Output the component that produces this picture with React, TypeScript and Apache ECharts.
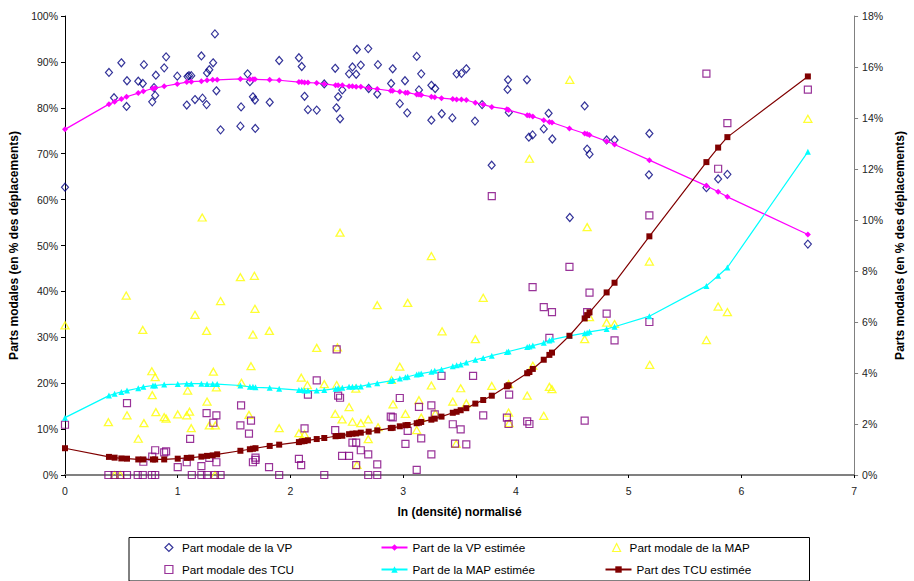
import React, { useEffect, useRef } from "react";
import * as echarts from "echarts";

// Observed modal shares (x = ln(density) normalised, y = % of trips)
const vpObserved: [number, number][] = [
  [0, 62.7], [0.39, 87.7], [0.435, 82.2], [0.5, 89.8], [0.546, 80.3], [0.55, 85.9], [0.65, 85.8], [0.69, 85.3],
  [0.7, 89.4], [0.774, 81.3], [0.79, 84.4], [0.8, 82.7], [0.806, 87.1], [0.88, 88.7], [0.897, 91.1], [0.996, 86.9],
  [1.08, 80.6], [1.087, 86.8], [1.1, 87.0], [1.12, 87.0], [1.153, 81.8], [1.21, 91.3], [1.22, 82.1], [1.256, 80.7],
  [1.26, 87.6], [1.28, 88.3], [1.314, 89.8], [1.33, 96.1], [1.343, 83.7], [1.38, 75.2], [1.556, 76.0], [1.562, 80.2],
  [1.62, 87.4], [1.64, 85.7], [1.667, 82.4], [1.685, 81.7], [1.688, 75.5], [1.816, 81.2], [1.9, 90.3], [2.075, 90.9],
  [2.1, 89.0], [2.125, 82.5], [2.155, 79.6], [2.233, 79.5], [2.3, 85.2], [2.397, 88.6], [2.408, 80.0], [2.423, 82.4],
  [2.44, 77.6], [2.46, 83.9], [2.52, 87.4], [2.55, 88.9], [2.583, 87.3], [2.589, 92.7], [2.624, 89.3], [2.69, 92.9],
  [2.694, 84.2], [2.77, 83.0], [2.776, 89.4], [2.893, 85.3], [2.907, 88.5], [2.97, 80.9], [3.016, 85.9], [3.036, 78.9],
  [3.12, 91.2], [3.14, 83.9], [3.16, 87.4], [3.25, 84.9], [3.25, 77.3], [3.284, 84.2], [3.342, 78.7], [3.436, 77.8],
  [3.474, 87.4], [3.517, 87.5], [3.56, 88.5], [3.637, 77.1], [3.7, 80.7], [3.785, 67.5], [3.926, 84.0], [3.93, 86.1],
  [3.937, 79.0], [4.098, 86.1], [4.115, 73.6], [4.148, 74.1], [4.247, 75.4], [4.29, 78.8], [4.323, 73.2], [4.478, 56.1],
  [4.61, 80.4], [4.632, 71.0], [4.653, 69.9], [4.805, 73.0], [4.875, 73.0], [5.184, 74.4], [5.18, 65.4], [5.69, 62.6],
  [5.794, 64.5], [5.876, 65.5], [6.59, 50.3],
];

const mapObserved: [number, number][] = [
  [0, 32.6], [0.385, 11.5], [0.44, 0], [0.49, 0], [0.543, 39.1], [0.55, 13.0], [0.65, 7.9], [0.69, 31.6], [0.7, 11.3],
  [0.77, 22.6], [0.774, 17.4], [0.8, 21.3], [0.806, 13.7], [0.88, 12.6], [0.897, 12.3], [1.0, 13.2], [1.08, 13.0],
  [1.088, 18.4], [1.105, 13.8], [1.12, 10.2], [1.153, 34.9], [1.217, 56.1], [1.256, 31.4], [1.26, 16.0], [1.28, 10.8],
  [1.316, 22.5], [1.33, 0], [1.334, 10.8], [1.343, 19.1], [1.38, 37.9], [1.556, 43.1], [1.565, 20.1], [1.632, 13.1],
  [1.65, 23.7], [1.667, 30.6], [1.68, 43.4], [1.685, 36.2], [1.813, 31.4], [1.9, 10.2], [2.075, 9.1], [2.096, 21.2],
  [2.125, 8.9], [2.15, 19.6], [2.233, 27.7], [2.3, 19.8], [2.397, 13.3], [2.41, 19.6], [2.417, 27.8], [2.44, 52.8],
  [2.458, 12.1], [2.52, 14.8], [2.55, 11.6], [2.58, 18.8], [2.59, 2.2], [2.624, 11.3], [2.69, 12.1], [2.69, 7.8],
  [2.77, 37.0], [2.777, 10.4], [2.896, 20.7], [2.91, 15.4], [2.97, 23.6], [3.02, 13.3], [3.04, 37.5], [3.12, 9.8],
  [3.14, 16.3], [3.16, 12.5], [3.25, 47.7], [3.25, 19.5], [3.285, 13.4], [3.345, 31.3], [3.44, 16.0], [3.47, 6.8],
  [3.51, 18.9], [3.56, 15.6], [3.64, 29.6], [3.71, 38.6], [3.786, 19.4], [3.935, 19.8], [3.935, 13.6], [3.94, 11.3],
  [4.1, 17.3], [4.12, 68.9], [4.15, 23.8], [4.247, 12.9], [4.297, 19.2], [4.32, 18.7], [4.478, 86.1], [4.61, 29.6],
  [4.632, 54.0], [4.653, 34.4], [4.805, 33.2], [4.875, 32.9], [5.184, 46.5], [5.187, 24.0], [5.69, 29.4],
  [5.794, 36.7], [5.876, 35.5], [6.59, 77.6],
];

// TCU shares are read on the right-hand axis (0–18 %)
const tcuObserved: [number, number][] = [
  [0, 1.97], [0.385, 0], [0.44, 0], [0.49, 0], [0.55, 0], [0.55, 2.82], [0.645, 0], [0.69, 0], [0.695, 0.52], [0.77, 0],
  [0.774, 0.72], [0.8, 0], [0.8, 0.97], [0.88, 0.89], [0.897, 0.93], [1.0, 0.31], [1.08, 0.5], [1.11, 1.42], [1.125, 0],
  [1.21, 0], [1.21, 0.35], [1.256, 2.43], [1.26, 0], [1.28, 0.67], [1.316, 2.05], [1.33, 0], [1.343, 2.34], [1.343, 0.5],
  [1.38, 0], [1.556, 1.95], [1.562, 2.73], [1.632, 1.62], [1.65, 2.13], [1.667, 0.5], [1.69, 0.68], [1.69, 0.59],
  [1.81, 0.31], [1.9, 0], [2.075, 0.63], [2.095, 0.39], [2.125, 1.83], [2.155, 3.15], [2.233, 3.71], [2.3, 0],
  [2.397, 1.76], [2.41, 4.93], [2.423, 3.11], [2.44, 3.03], [2.458, 0.75], [2.52, 0.75], [2.55, 1.27], [2.583, 1.27],
  [2.583, 0.39], [2.624, 0.97], [2.69, 0.81], [2.69, 0], [2.77, 0.42], [2.77, 0], [2.89, 2.29], [2.907, 2.26],
  [2.97, 3.02], [3.02, 1.22], [3.04, 1.73], [3.12, 0.2], [3.14, 2.67], [3.16, 1.44], [3.25, 2.73], [3.25, 0.81],
  [3.28, 2.38], [3.34, 3.89], [3.44, 1.99], [3.46, 1.23], [3.51, 1.79], [3.56, 1.2], [3.62, 3.89], [3.71, 2.34],
  [3.786, 10.94], [3.92, 2.25], [3.935, 2.0], [3.94, 3.15], [4.1, 2.1], [4.12, 2.0], [4.148, 7.37], [4.247, 6.58],
  [4.297, 5.38], [4.32, 6.39], [4.475, 8.16], [4.61, 2.13], [4.632, 6.39], [4.653, 7.15], [4.805, 6.33], [4.875, 5.28],
  [5.184, 6.0], [5.184, 10.18], [5.69, 15.74], [5.794, 12.01], [5.876, 13.8], [6.59, 15.11],
];

// Estimated curves
const vpEstimated: [number, number][] = [
  [0, 75.3], [0.39, 80.8], [0.44, 81.3], [0.5, 81.9], [0.546, 82.4], [0.65, 83.2], [0.695, 83.6], [0.777, 84.2],
  [0.8, 84.3], [0.88, 84.7], [0.996, 85.2], [1.08, 85.6], [1.12, 85.7], [1.21, 85.8], [1.26, 86.0], [1.31, 86.1],
  [1.35, 86.1], [1.556, 86.3], [1.64, 86.2], [1.667, 86.2], [1.685, 86.2], [1.816, 86.1], [1.9, 86.0], [2.075, 85.6],
  [2.1, 85.6], [2.125, 85.5], [2.155, 85.5], [2.233, 85.4], [2.3, 85.2], [2.4, 84.9], [2.423, 84.9], [2.46, 84.9],
  [2.52, 84.7], [2.55, 84.7], [2.583, 84.6], [2.624, 84.6], [2.694, 84.3], [2.77, 84.1], [2.89, 83.7], [2.907, 83.7],
  [2.97, 83.5], [3.02, 83.3], [3.04, 83.3], [3.12, 82.9], [3.14, 82.9], [3.16, 82.8], [3.25, 82.4], [3.28, 82.3],
  [3.34, 82.1], [3.44, 81.9], [3.474, 81.8], [3.517, 81.8], [3.56, 81.7], [3.64, 81.1], [3.71, 80.7], [3.786, 80.2],
  [3.92, 79.7], [3.935, 79.5], [4.1, 78.4], [4.12, 78.3], [4.15, 78.1], [4.247, 77.3], [4.297, 76.9], [4.32, 76.8],
  [4.475, 75.5], [4.61, 74.4], [4.632, 74.3], [4.653, 74.1], [4.805, 72.7], [4.875, 72.0], [5.184, 68.6], [5.69, 63.0],
  [5.794, 61.7], [5.876, 60.6], [6.59, 52.4],
];

const mapEstimated: [number, number][] = [
  [0, 12.5], [0.39, 17.3], [0.44, 17.7], [0.5, 18.1], [0.55, 18.4], [0.65, 18.9], [0.695, 19.2], [0.78, 19.5],
  [0.8, 19.5], [0.88, 19.7], [1.0, 19.8], [1.08, 19.9], [1.12, 19.9], [1.21, 19.9], [1.26, 19.8], [1.31, 19.8],
  [1.35, 19.8], [1.556, 19.5], [1.64, 19.2], [1.667, 19.2], [1.69, 19.1], [1.816, 19.0], [1.9, 18.8], [2.075, 18.5],
  [2.1, 18.5], [2.125, 18.4], [2.155, 18.4], [2.233, 18.4], [2.3, 18.5], [2.4, 18.8], [2.423, 18.9], [2.46, 19.0],
  [2.52, 19.2], [2.55, 19.2], [2.583, 19.3], [2.624, 19.3], [2.694, 19.7], [2.77, 20.0], [2.89, 20.5], [2.907, 20.7],
  [2.97, 21.0], [3.02, 21.3], [3.04, 21.4], [3.12, 21.9], [3.14, 22.0], [3.16, 22.1], [3.25, 22.5], [3.28, 22.7],
  [3.34, 23.0], [3.44, 23.7], [3.474, 23.9], [3.51, 24.1], [3.56, 24.5], [3.64, 25.1], [3.71, 25.5], [3.786, 26.0],
  [3.92, 26.8], [3.935, 26.9], [4.1, 27.9], [4.12, 28.0], [4.15, 28.2], [4.247, 28.8], [4.297, 29.3], [4.32, 29.5],
  [4.475, 30.3], [4.61, 30.9], [4.632, 31.0], [4.653, 31.2], [4.805, 31.8], [4.875, 32.3], [5.184, 34.6], [5.69, 41.2],
  [5.794, 43.4], [5.876, 45.2], [6.59, 70.4],
];

const tcuEstimated: [number, number][] = [
  [0, 1.05], [0.39, 0.71], [0.44, 0.68], [0.5, 0.65], [0.55, 0.64], [0.65, 0.61], [0.695, 0.61], [0.78, 0.61],
  [0.8, 0.61], [0.88, 0.61], [1.0, 0.64], [1.08, 0.67], [1.12, 0.68], [1.21, 0.72], [1.26, 0.75], [1.31, 0.77],
  [1.35, 0.81], [1.556, 0.95], [1.64, 1.01], [1.667, 1.03], [1.69, 1.05], [1.816, 1.14], [1.9, 1.19], [2.075, 1.29],
  [2.1, 1.32], [2.125, 1.33], [2.155, 1.36], [2.233, 1.41], [2.3, 1.45], [2.4, 1.52], [2.423, 1.53], [2.46, 1.54],
  [2.52, 1.6], [2.55, 1.62], [2.583, 1.63], [2.624, 1.66], [2.694, 1.7], [2.77, 1.75], [2.89, 1.84], [2.907, 1.85],
  [2.97, 1.91], [3.02, 1.95], [3.04, 1.96], [3.12, 2.03], [3.14, 2.05], [3.16, 2.08], [3.25, 2.17], [3.28, 2.21],
  [3.34, 2.29], [3.44, 2.44], [3.474, 2.48], [3.51, 2.54], [3.56, 2.62], [3.64, 2.8], [3.71, 2.94], [3.786, 3.11],
  [3.92, 3.48], [3.935, 3.52], [4.1, 3.99], [4.12, 4.04], [4.15, 4.16], [4.247, 4.52], [4.297, 4.71], [4.32, 4.8],
  [4.475, 5.46], [4.61, 6.14], [4.632, 6.27], [4.653, 6.38], [4.805, 7.16], [4.875, 7.54], [5.184, 9.36], [5.69, 12.27],
  [5.794, 12.84], [5.876, 13.25], [6.59, 15.63],
];

const seriesNames = [
  "Part modale de la VP",
  "Part de la VP estimée",
  "Part modale de la MAP",
  "Part modale des TCU",
  "Part de la MAP estimée",
  "Part des TCU estimée",
];

const xAxisTitle = "ln (densité) normalisé";
const yAxisTitle = "Parts modales (en % des déplacements)";

const FONT = "'Liberation Sans', Arial, sans-serif";

export default function App() {
  const ref = useRef<HTMLDivElement>(null);

  useEffect(() => {
    if (!ref.current) return;
    const chart = echarts.init(ref.current, undefined, { renderer: "svg" });

    const labelStyle = { fontFamily: FONT, fontSize: 10.5, color: "#222" };
    const nameStyle = { fontFamily: FONT, fontSize: 12, fontWeight: "bold", color: "#000" };
    const legendText = { fontFamily: FONT, fontSize: 11.7, color: "#000" };

    // one legend per entry, positioned like the reference's 3x2 legend grid
    const legendEntry = (name: string, left: number, top: number, itemWidth: number, scatter: boolean) => ({
      orient: "horizontal",
      left,
      top,
      width: 200,
      height: 16,
      padding: 0,
      itemWidth,
      itemHeight: 8,
      itemGap: 0,
      selectedMode: false,
      symbolKeepAspect: true,
      textStyle: scatter ? { ...legendText, padding: [0, 0, 0, 4] } : legendText,
      data: [scatter ? { name, itemStyle: { borderWidth: 1.2 } } : name],
    });

    const row1 = 541.5;
    const row2 = 563.5;

    chart.setOption({
      animation: false,
      backgroundColor: "#fff",
      grid: { left: 65, right: 49, top: 16, bottom: 106, containLabel: false },
      xAxis: {
        type: "value",
        min: 0,
        max: 7,
        interval: 1,
        name: xAxisTitle,
        nameLocation: "middle",
        nameGap: 31,
        nameTextStyle: nameStyle,
        axisLine: { onZero: false, lineStyle: { color: "#808080", width: 2 } },
        axisTick: { show: true, length: 3, lineStyle: { color: "#000" } },
        axisLabel: { ...labelStyle, margin: 10 },
        splitLine: { show: false },
      },
      yAxis: [
        {
          type: "value",
          min: 0,
          max: 100,
          interval: 10,
          position: "left",
          name: yAxisTitle,
          nameLocation: "middle",
          nameRotate: 90,
          nameGap: 40,
          nameTextStyle: nameStyle,
          axisLine: { show: true, lineStyle: { color: "#000", width: 1 } },
          axisTick: { show: true, length: 4, lineStyle: { color: "#000" } },
          axisLabel: { ...labelStyle, margin: 7, formatter: "{value}%" },
          splitLine: { show: false },
        },
        {
          type: "value",
          min: 0,
          max: 18,
          interval: 2,
          position: "right",
          name: yAxisTitle,
          nameLocation: "middle",
          nameRotate: 90,
          nameGap: 39,
          nameTextStyle: nameStyle,
          axisLine: { show: true, lineStyle: { color: "#808080", width: 1 } },
          axisTick: { show: true, length: 4, lineStyle: { color: "#808080" } },
          axisLabel: { ...labelStyle, margin: 8, formatter: "{value}%" },
          splitLine: { show: false },
        },
      ],
      legend: [
        legendEntry(seriesNames[0], 164.3, row1, 8, true),
        legendEntry(seriesNames[3], 164.3, row2, 8, true),
        legendEntry(seriesNames[1], 380.5, row1, 26, false),
        legendEntry(seriesNames[4], 380.5, row2, 26, false),
        legendEntry(seriesNames[2], 612, row1, 8, true),
        legendEntry(seriesNames[5], 604.5, row2, 26, false),
      ],
      graphic: [
        {
          type: "rect",
          left: 126.5,
          top: 535,
          shape: { width: 680.5, height: 43.5 },
          style: { fill: "none", stroke: "#000", lineWidth: 1 },
          silent: true,
        },
      ],
      series: [
        {
          name: seriesNames[0],
          type: "scatter",
          yAxisIndex: 0,
          data: vpObserved,
          symbol: "diamond",
          symbolSize: [7, 8],
          symbolKeepAspect: true,
          itemStyle: { color: "rgba(255,255,255,0)", borderColor: "#000080", borderWidth: 1.2 },
          z: 2,
        },
        {
          name: seriesNames[1],
          type: "line",
          yAxisIndex: 0,
          data: vpEstimated,
          symbol: "diamond",
          symbolSize: 6,
          showAllSymbol: true,
          lineStyle: { color: "#FF00FF", width: 1.2 },
          itemStyle: { color: "#FF00FF" },
          z: 3,
        },
        {
          name: seriesNames[2],
          type: "scatter",
          yAxisIndex: 0,
          data: mapObserved,
          symbol: "triangle",
          symbolSize: [8, 7],
          symbolKeepAspect: true,
          itemStyle: { color: "rgba(255,255,255,0)", borderColor: "#FFFF00", borderWidth: 1.3 },
          z: 2,
        },
        {
          name: seriesNames[3],
          type: "scatter",
          yAxisIndex: 1,
          data: tcuObserved,
          symbol: "rect",
          symbolSize: 7,
          symbolKeepAspect: true,
          itemStyle: { color: "rgba(255,255,255,0)", borderColor: "#800080", borderWidth: 1.2 },
          z: 2,
        },
        {
          name: seriesNames[4],
          type: "line",
          yAxisIndex: 0,
          data: mapEstimated,
          symbol: "triangle",
          symbolSize: 6,
          showAllSymbol: true,
          lineStyle: { color: "#00FFFF", width: 1.2 },
          itemStyle: { color: "#00FFFF" },
          z: 3,
        },
        {
          name: seriesNames[5],
          type: "line",
          yAxisIndex: 1,
          data: tcuEstimated,
          symbol: "rect",
          symbolSize: 6,
          showAllSymbol: true,
          lineStyle: { color: "#800000", width: 1.2 },
          itemStyle: { color: "#800000" },
          z: 3,
        },
      ],
    });

    return () => chart.dispose();
  }, []);

  return (
    <div
      ref={ref}
      style={{ position: "fixed", left: 0, top: 0, width: 914, height: 581, background: "#fff" }}
    />
  );
}
